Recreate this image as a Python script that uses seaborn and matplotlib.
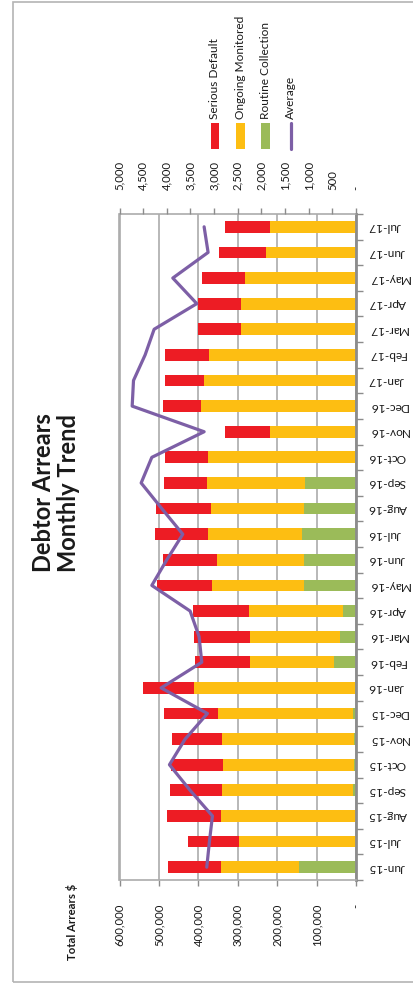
import numpy as np
import pandas as pd
import matplotlib
matplotlib.use("Agg")
import matplotlib.pyplot as plt
from matplotlib.patches import Rectangle
from matplotlib.lines import Line2D
import seaborn as sns

# Monthly debtor arrears ($) by category, and average arrears per debtor ($)
months = ["Jun-15", "Jul-15", "Aug-15", "Sep-15", "Oct-15", "Nov-15", "Dec-15",
          "Jan-16", "Feb-16", "Mar-16", "Apr-16", "May-16", "Jun-16", "Jul-16",
          "Aug-16", "Sep-16", "Oct-16", "Nov-16", "Dec-16", "Jan-17", "Feb-17",
          "Mar-17", "Apr-17", "May-17", "Jun-17", "Jul-17"]
routine_collection = [144500, 0, 0, 7600, 6000, 4000, 6800,
                      2000, 54900, 41400, 32100, 132700, 131000, 136900,
                      131900, 129300, 3000, 0, 3000, 1000, 0,
                      2000, 0, 0, 0, 0]
ongoing_monitored = [197000, 297500, 342300, 332200, 330400, 335800, 343200,
                     408000, 213900, 227400, 239200, 232500, 221500, 239300,
                     236700, 247700, 371500, 217200, 389200, 384500, 371900,
                     290400, 290700, 282000, 228800, 217800]
serious_default = [134400, 127700, 136100, 131900, 132700, 126800, 137700,
                   129300, 139500, 141200, 141200, 139400, 137800, 133500,
                   137700, 109900, 109900, 114200, 96400, 98900, 112500,
                   109300, 111000, 108700, 117800, 115200]
average_arrears = [3155, 3099, 3035, 3507, 3944, 3613, 3141,
                   4120, 3261, 3317, 3507, 4317, 4000, 3662,
                   4106, 4542, 4317, 3211, 4732, 4704, 4458,
                   4268, 3366, 3873, 3127, 3211]

primary_ticks = [0, 100000, 200000, 300000, 400000, 500000, 600000]
primary_labels = ["-", "100,000", "200,000", "300,000", "400,000", "500,000", "600,000"]
secondary_ticks = [0, 500, 1000, 1500, 2000, 2500, 3000, 3500, 4000, 4500, 5000]
secondary_labels = ["-", "500", "1,000", "1,500", "2,000", "2,500", "3,000",
                    "3,500", "4,000", "4,500", "5,000"]

RED = "#ED1C24"
YELLOW = "#FDBE12"
GREEN = "#9BBB59"
PURPLE = "#7D5FA6"
GRID = "#ABABAB"
AXIS = "#8C8C8C"
TXT = "#1A1A1A"

df = pd.DataFrame({
    "month": months,
    "routine": routine_collection,
    "ongoing": ongoing_monitored,
    "serious": serious_default,
    "average": average_arrears,
})
df["cum_ongoing"] = df["routine"] + df["ongoing"]
df["cum_serious"] = df["cum_ongoing"] + df["serious"]

sns.set_theme(style="white")
plt.rcParams["font.family"] = ["Lato", "DejaVu Sans"]

W, H = 414, 983
fig = plt.figure(figsize=(W / 100, H / 100), dpi=100)

def fx(px):
    return px / W

def fy(py):
    return 1 - py / H

ax = fig.add_axes([fx(119.5), fy(880), fx(356) - fx(119.5), fy(214) - fy(880)])

# stacked bars drawn as overlapping cumulative totals
bar_w = 0.46
for col, colr in [("cum_serious", RED), ("cum_ongoing", YELLOW), ("routine", GREEN)]:
    sns.barplot(data=df, x=col, y="month", order=months, orient="h", color=colr,
                width=bar_w, saturation=1, edgecolor="none", linewidth=0, ax=ax)

n = len(months)
ax.set_xlim(600000, 0)
ax.set_ylim(-0.5, n - 0.5)
ax.set_xlabel("")
ax.set_ylabel("")

# value axis (bottom)
ax.set_xticks(primary_ticks)
ax.set_xticklabels(primary_labels, rotation=90, fontsize=8.2, color=TXT)
ax.tick_params(axis="x", which="major", direction="out", length=4, width=1,
               color=AXIS, pad=13, bottom=True)
ax.grid(axis="x", color=GRID, linewidth=1.2)
ax.grid(axis="y", visible=False)
ax.set_axisbelow(True)

# category axis (right side), ticks between months
ax.yaxis.tick_right()
ax.set_yticks(np.arange(-0.5, n, 1.0))
ax.set_yticklabels([""] * (n + 1))
ax.set_yticks(np.arange(n), minor=True)
ax.set_yticklabels(months, minor=True, rotation=180, fontsize=8.6, color=TXT,
                   va="center")
ax.tick_params(axis="y", which="major", direction="out", length=5, width=1,
               color=AXIS, right=True, left=False)
ax.tick_params(axis="y", which="minor", length=0, pad=9, right=True, left=False)

for side in ["left", "top", "bottom"]:
    ax.spines[side].set_color(GRID)
    ax.spines[side].set_linewidth(1.2)
ax.spines["right"].set_color(AXIS)
ax.spines["right"].set_linewidth(2)

# average arrears on the secondary (top) axis
ax2 = ax.twiny()
sns.lineplot(x=df["average"].values, y=np.arange(n), orient="y", sort=False,
             color=PURPLE, linewidth=2.3, ax=ax2)
ax2.set_xlim(5000, 0)
ax2.set_ylim(-0.5, n - 0.5)
ax2.set_xticks(secondary_ticks)
ax2.set_xticklabels(secondary_labels, rotation=90, fontsize=8.2, color=TXT)
ax2.tick_params(axis="x", direction="out", length=4, width=1, color=AXIS, pad=13,
                top=True)
ax2.grid(False)
for side in ["left", "right", "top", "bottom"]:
    ax2.spines[side].set_visible(False)
ax.spines["top"].set_visible(True)

# title and axis caption
fig.text(fx(56), fy(493), "Debtor Arrears\nMonthly Trend", rotation=90,
         ha="center", va="center", fontsize=17, fontweight="bold", color=TXT,
         linespacing=1.1)
fig.text(fx(72), fy(922), "Total Arrears $", rotation=90, ha="center",
         va="center", fontsize=8.2, fontweight="bold", color=TXT)

# legend, laid out sideways
legend_items = [("Serious Default", "patch", RED),
                ("Ongoing Monitored", "patch", YELLOW),
                ("Routine Collection", "patch", GREEN),
                ("Average", "line", PURPLE)]
for i, (label, kind, colr) in enumerate(legend_items):
    cx = 215 + 25.3 * i
    if kind == "patch":
        fig.patches.append(Rectangle((fx(cx - 4.3), fy(149)), fx(8.6), fy(123) - fy(149),
                                     transform=fig.transFigure, facecolor=colr,
                                     edgecolor="none"))
    else:
        fig.lines.append(Line2D([fx(cx), fx(cx)], [fy(149), fy(123)],
                                transform=fig.transFigure, color=colr, linewidth=2.3))
    fig.text(fx(cx), fy(119), label, rotation=90, ha="center", va="bottom",
             fontsize=8.6, color=TXT)

# outer frame
fig.patches.append(Rectangle((fx(13), fy(982)), fx(420) - fx(13), fy(2) - fy(982),
                             transform=fig.transFigure, facecolor="none",
                             edgecolor="#B4B4B4", linewidth=1.2))

fig.savefig("out.png", dpi=100)
